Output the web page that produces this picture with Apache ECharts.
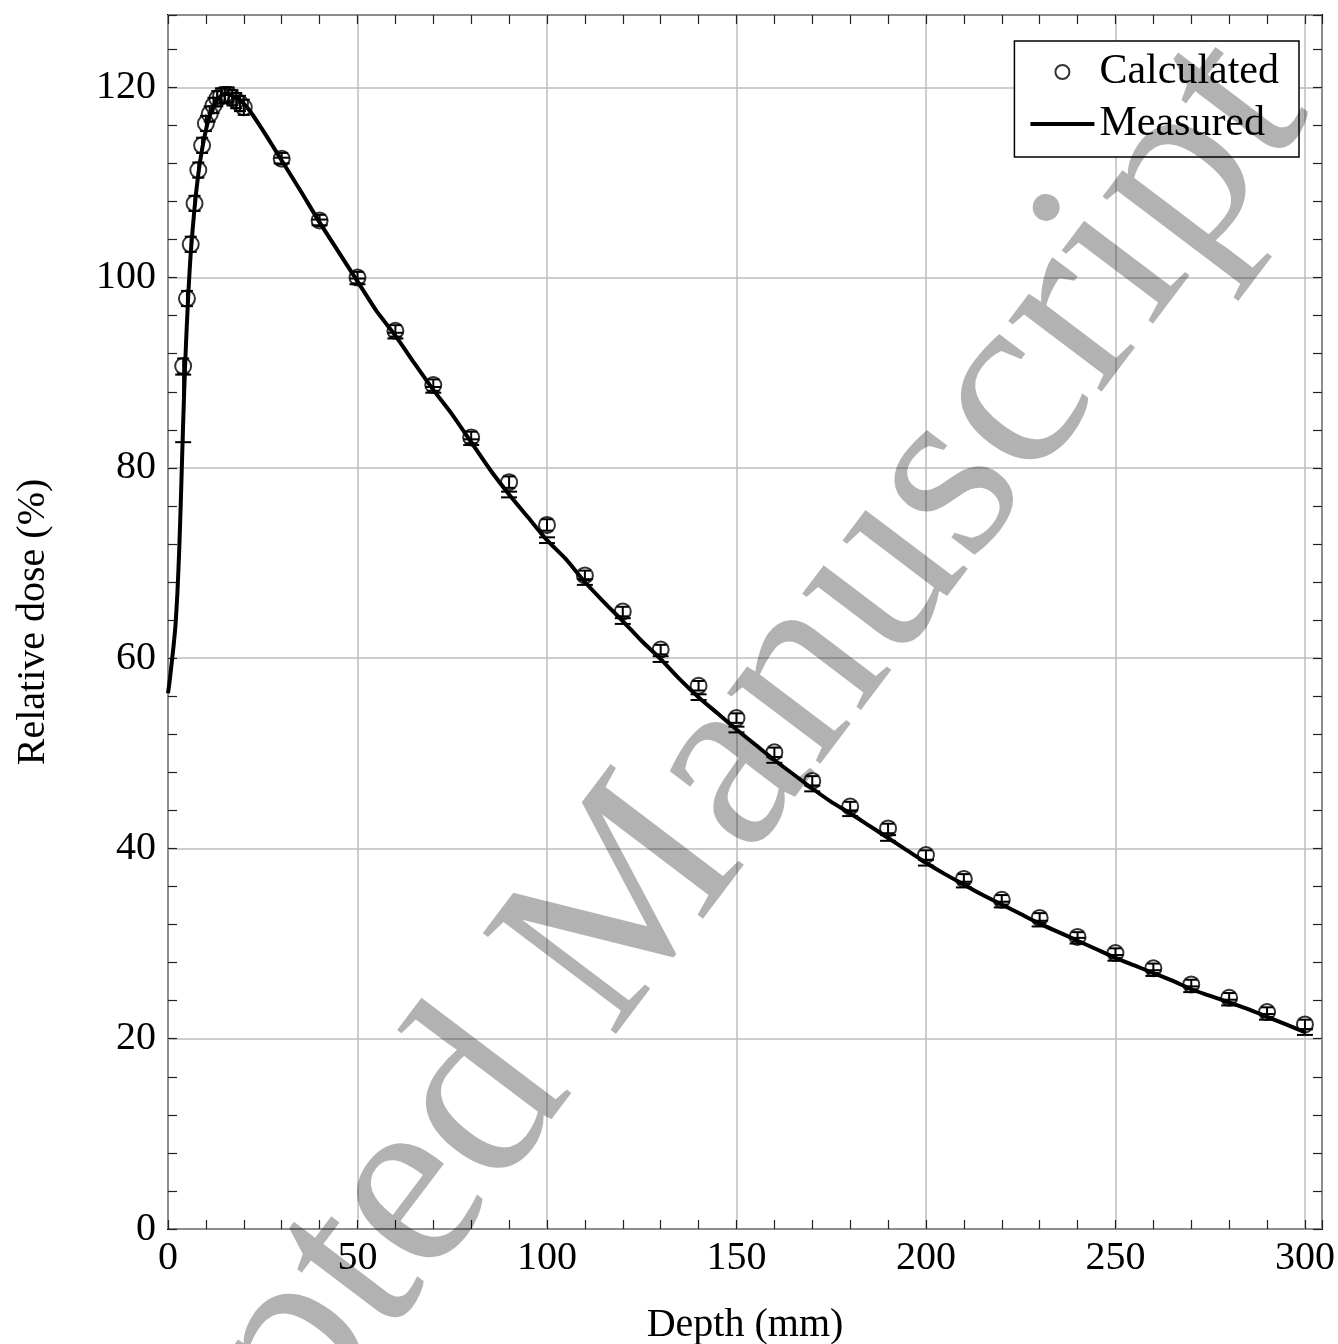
<!DOCTYPE html>
<html>
<head>
<meta charset="utf-8">
<script src="https://cdn.jsdelivr.net/npm/echarts@6/dist/echarts.min.js"></script>
<style>
html, body { margin: 0; padding: 0; background: #fff; }
#container { width: 1338px; height: 1344px; }
</style>
</head>
<body>
<div id="container"></div>
<script>
// Calculated depth-dose points (mm, %)
var calcDepth = [4, 5, 6, 7, 8, 9, 10, 11, 12, 13, 14, 15, 16, 17, 18, 19, 20,
    30, 40, 50, 60, 70, 80, 90, 100, 110, 120, 130, 140, 150, 160, 170, 180, 190, 200,
    210, 220, 230, 240, 250, 260, 270, 280, 290, 300];
var calcDose = [90.7, 97.8, 103.5, 107.8, 111.3, 113.9, 116.2, 117.2, 118.1, 118.8, 119.1, 119.2, 119.2, 118.9, 118.6, 118.3, 117.9,
    112.5, 106.0, 100.0, 94.4, 88.7, 83.2, 78.5, 74.0, 68.7, 64.9, 60.9, 57.1, 53.7, 50.1, 47.1, 44.4, 42.1, 39.3,
    36.8, 34.6, 32.7, 30.7, 29.0, 27.4, 25.7, 24.3, 22.8, 21.5];
var calcErr = [0.8, 0.8, 0.8, 0.8, 0.8, 0.8, 0.8, 0.8, 0.8, 0.8, 0.8, 0.8, 0.8, 0.8, 0.8, 0.8, 0.8,
    0.6, 0.6, 0.6, 0.6, 0.6, 0.6, 0.6, 0.6, 0.5, 0.5, 0.5, 0.5, 0.5, 0.5, 0.5, 0.5, 0.5, 0.5,
    0.5, 0.5, 0.5, 0.5, 0.5, 0.5, 0.5, 0.5, 0.5, 0.5];

// Measured curve
var measDepth = [0, 0.5, 1, 1.5, 2, 2.5, 3, 3.5, 4, 4.5, 5, 5.5, 6, 7, 8, 9, 10, 11, 12, 13, 14, 15, 16, 17, 18, 19, 20,
    22, 25, 28, 30, 35, 40, 45, 50, 55, 60, 65, 70, 75, 80, 85, 90, 95, 100, 105, 110, 115, 120, 125, 130, 135, 140,
    145, 150, 155, 160, 165, 170, 175, 180, 185, 190, 195, 200, 205, 210, 215, 220, 225, 230, 235, 240, 245, 250,
    255, 260, 265, 270, 275, 280, 285, 290, 295, 300];
var measDose = [56.3, 57.8, 59.6, 61.4, 63.6, 67.0, 71.8, 78.0, 84.8, 90.6, 95.3, 99.3, 102.6, 107.3, 110.9, 113.5, 115.5, 117.0, 118.0, 118.7, 119.1, 119.3, 119.3, 119.1, 118.9, 118.6, 118.3,
    117.3, 115.5, 113.6, 112.3, 109.1, 105.8, 102.7, 99.6, 96.5, 93.9, 91.0, 88.2, 85.6, 82.7, 79.8, 77.2, 74.8, 72.4, 70.4, 68.0, 65.9, 63.9, 61.8, 59.9, 57.8, 55.9,
    54.2, 52.5, 50.9, 49.3, 47.8, 46.3, 44.9, 43.7, 42.4, 41.1, 39.8, 38.5, 37.3, 36.2, 35.1, 34.1, 33.1, 32.1, 31.2, 30.3, 29.4, 28.5,
    27.7, 26.9, 26.1, 25.2, 24.5, 23.8, 23.1, 22.3, 21.5, 20.7];
// Measured uncertainty (below / above) where it shows
var measErrDepth = [4, 30, 40, 50, 60, 70, 80, 90, 100, 110, 120, 130, 140, 150, 160, 170, 180, 190, 200,
    210, 220, 230, 240, 250, 260, 270, 280, 290, 300];
var measErrLo = [2.1, 0.3, 0.3, 0.3, 0.3, 0.3, 0.3, 0.3, 0.3, 0.3, 0.3, 0.3, 0.3, 0.3, 0.3, 0.3, 0.3, 0.3, 0.3,
    0.3, 0.3, 0.3, 0.3, 0.3, 0.3, 0.3, 0.3, 0.3, 0.3];
var measErrHi = [5.0, 0.3, 0.3, 0.3, 0.3, 0.3, 0.3, 0.3, 0.3, 0.3, 0.3, 0.3, 0.3, 0.3, 0.3, 0.3, 0.3, 0.3, 0.3,
    0.3, 0.3, 0.3, 0.3, 0.3, 0.3, 0.3, 0.3, 0.3, 0.3];

var xMax = 304.5, yMax = 127.6;
var FONT = 'Liberation Serif';

var calcPts = [], calcBars = [], measPts = [], measBars = [];
for (var i = 0; i < calcDepth.length; i++) {
    calcPts.push([calcDepth[i], calcDose[i]]);
    calcBars.push([calcDepth[i], calcDose[i] - calcErr[i], calcDose[i] + calcErr[i]]);
}
for (var k = 0; k < measErrDepth.length; k++) {
    var m = measDose[measDepth.indexOf(measErrDepth[k])];
    measBars.push([measErrDepth[k], m - measErrLo[k], m + measErrHi[k]]);
}
for (var j = 0; j < measDepth.length; j++) {
    measPts.push([measDepth[j], measDose[j]]);
}

function errorBar(capHalf) {
    return function (params, api) {
        var lo = api.coord([api.value(0), api.value(1)]);
        var hi = api.coord([api.value(0), api.value(2)]);
        var st = { stroke: '#000', lineWidth: 2 };
        return {
            type: 'group',
            children: [
                { type: 'line', shape: { x1: lo[0], y1: lo[1], x2: hi[0], y2: hi[1] }, style: st },
                { type: 'line', shape: { x1: lo[0] - capHalf, y1: lo[1], x2: lo[0] + capHalf, y2: lo[1] }, style: st },
                { type: 'line', shape: { x1: hi[0] - capHalf, y1: hi[1], x2: hi[0] + capHalf, y2: hi[1] }, style: st }
            ]
        };
    };
}

// tick-only axes for the frame (inside ticks on all four sides)
function tickAxis(pos, interval, max) {
    return {
        type: 'value', position: pos, min: 0, max: max, interval: interval,
        axisLine: { show: false, onZero: false },
        axisLabel: { show: false },
        splitLine: { show: false },
        axisTick: { show: true, inside: true, length: 9, lineStyle: { color: '#222', width: 1.2 } }
    };
}

var dom = document.getElementById('container');
var myChart = echarts.init(dom);
var option = {
    animation: false,
    backgroundColor: '#fff',
    grid: {
        left: 168, right: 16, top: 15, bottom: 115, outerBoundsMode: 'none',
        show: true, borderColor: '#000', borderWidth: 2, backgroundColor: 'transparent'
    },
    legend: {
        data: ['Calculated', { name: 'Measured', itemStyle: { opacity: 0 }, lineStyle: { width: 4, color: '#000' } }],
        orient: 'vertical', right: 39, top: 41,
        itemWidth: 64, itemHeight: 14, itemGap: 8, itemTextGap: 11,
        padding: [9, 20, 11, 14],
        backgroundColor: '#fff', borderColor: '#000', borderWidth: 1.5,
        textStyle: { fontFamily: FONT, fontSize: 42, color: '#000', lineHeight: 44 }
    },
    xAxis: [{
        type: 'value', position: 'bottom', min: 0, max: xMax, interval: 50,
        name: 'Depth (mm)', nameLocation: 'middle', nameGap: 76,
        nameTextStyle: { fontFamily: FONT, fontSize: 40, color: '#000' },
        axisLine: { show: false, onZero: false },
        axisTick: { show: false },
        axisLabel: { fontFamily: FONT, fontSize: 40, color: '#000', margin: 9, showMaxLabel: false },
        splitLine: { show: true, lineStyle: { color: '#bdbdbd', width: 1.5 } }
    }, tickAxis('bottom', 10, xMax), tickAxis('top', 10, xMax)],
    yAxis: [{
        type: 'value', position: 'left', min: 0, max: yMax, interval: 20,
        name: 'Relative dose (%)', nameLocation: 'middle', nameGap: 115, nameRotate: 90,
        nameTextStyle: { fontFamily: FONT, fontSize: 40, color: '#000' },
        axisLine: { show: false, onZero: false },
        axisTick: { show: false },
        axisLabel: { fontFamily: FONT, fontSize: 40, color: '#000', margin: 12, showMaxLabel: false },
        splitLine: { show: true, lineStyle: { color: '#bdbdbd', width: 1.5 } }
    }, tickAxis('left', 4, yMax), tickAxis('right', 4, yMax)],
    graphic: [{
        type: 'text', z: 100,
        x: -61, y: 1818, rotation: 52.9 * Math.PI / 180,
        style: {
            text: 'Accepted Manuscript', fontFamily: FONT, fontSize: 255,
            fill: 'rgba(0,0,0,0.3)', align: 'left', verticalAlign: 'middle'
        }
    }],
    series: [
        {
            name: 'Measured', type: 'line', data: measPts, symbol: 'none', smooth: 0.2,
            lineStyle: { color: '#000', width: 4 }, itemStyle: { color: '#000' }, z: 3
        },
        {
            name: 'Measured error', type: 'custom', data: measBars, renderItem: errorBar(8),
            encode: { x: 0, y: [1, 2] }, z: 4
        },
        {
            name: 'Calculated', type: 'scatter', data: calcPts, symbol: 'circle', symbolSize: 16,
            itemStyle: { color: 'rgba(255,255,255,0)', borderColor: '#000', borderWidth: 2 }, z: 5
        },
        {
            name: 'Calculated error', type: 'custom', data: calcBars, renderItem: errorBar(6),
            encode: { x: 0, y: [1, 2] }, z: 6
        }
    ]
};
myChart.setOption(option);
</script>
</body>
</html>
